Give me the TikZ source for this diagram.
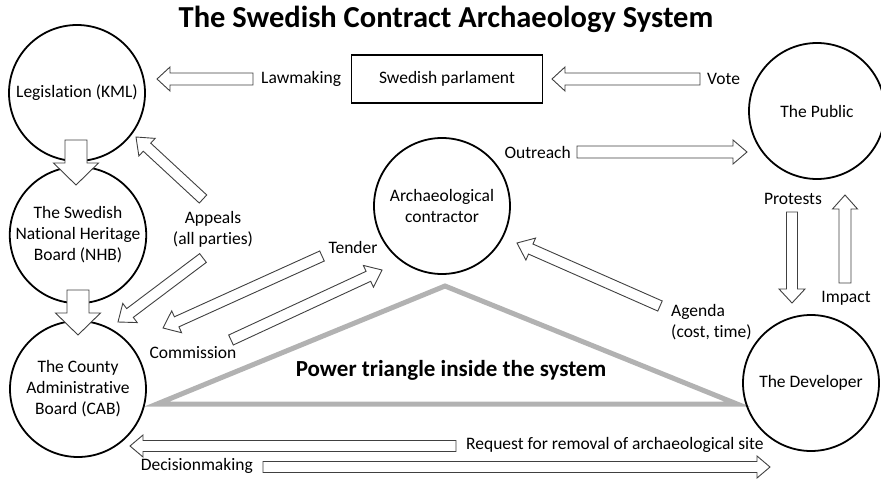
\documentclass[tikz,border=0pt]{standalone}
\usepackage{fontspec}
\setmainfont{Carlito}[Ligatures=NoCommon]
\usetikzlibrary{calc}
\newcommand\blockarr[6]{% name, from, to, half shaft, half head, head length
  \coordinate (#1h) at ($(#3)!#6!(#2)$);
  \draw[blk] ($(#2)!#4!90:(#3)$) -- ($(#1h)!#4!-90:(#2)$) -- ($(#1h)!#5!-90:(#2)$) -- (#3)
    -- ($(#1h)!#5!90:(#2)$) -- ($(#1h)!#4!90:(#2)$) -- ($(#2)!#4!-90:(#3)$) -- cycle;}
\tikzset{
  blk/.style={draw=black!75, fill=white, line width=0.9pt, line join=miter},
  circ/.style={circle, draw=black, line width=1.8pt, minimum size=136pt, inner sep=0pt, align=center, font=\fontsize{17.5}{21}\selectfont},
  lbl/.style={inner sep=0pt, font=\fontsize{17.5}{21}\selectfont, align=center},
}
\begin{document}
\begin{tikzpicture}[x=1pt,y=-1pt]
\useasboundingbox (0,0) rectangle (881,480);
% title
\node[font=\fontsize{30.5}{36}\selectfont\bfseries] (title) at (446,19) {The Swedish Contract Archaeology System};
% power triangle
\draw[black!30, line width=5pt, line join=miter] (445,286) -- (157,404) -- (737,404) -- cycle;
\node[font=\fontsize{23}{27}\selectfont\bfseries, inner sep=0pt] (pt) at (451,370) {Power triangle inside the system};
% circles
\node[circ] (leg) at (77,93) {Legislation (KML)};
\node[circ] (nhb) at (78,235) {The Swedish\\National Heritage\\Board (NHB)};
\node[circ] (cab) at (78,389) {The County\\Administrative\\Board (CAB)};
\node[circ] (arc) at (442,206) {Archaeological\\contractor};
\node[circ] (pub) at (817,111) {The Public};
\node[circ] (dev) at (811,383) {The Developer};
% parliament
\node[draw=black, line width=1.8pt, minimum width=191pt, minimum height=48pt, font=\fontsize{17.5}{21}\selectfont] (parl) at (447,79) {Swedish parlament};
% coordinates for arrows
\coordinate (lawA) at (253,79);  \coordinate (lawB) at (157,79);
\coordinate (votA) at (700,79);  \coordinate (votB) at (552,79);
\coordinate (outA) at (577,152); \coordinate (outB) at (747,152);
\coordinate (lnA) at (76,140);   \coordinate (lnB) at (76,185);
\coordinate (ncA) at (78,290);   \coordinate (ncB) at (78,335);
\coordinate (apuA) at (203,199); \coordinate (apuB) at (136,137);
\coordinate (apdA) at (203,258); \coordinate (apdB) at (118,322);
\coordinate (tenA) at (322,256); \coordinate (tenB) at (163,328);
\coordinate (comA) at (231,340); \coordinate (comB) at (382,270);
\coordinate (agA) at (660,306);  \coordinate (agB) at (517,243);
\coordinate (proA) at (792,212); \coordinate (proB) at (792,303);
\coordinate (impA) at (845,283); \coordinate (impB) at (845,195);
\coordinate (reqA) at (456,446); \coordinate (reqB) at (130,446);
\coordinate (decA) at (263,467); \coordinate (decB) at (770,467);
% block arrows
\blockarr{law}{lawA}{lawB}{6pt}{12pt}{13pt}
\blockarr{vot}{votA}{votB}{6pt}{12pt}{13pt}
\blockarr{out}{outA}{outB}{6pt}{12pt}{14pt}
\blockarr{ln}{lnA}{lnB}{11pt}{22.5pt}{22pt}
\blockarr{nc}{ncA}{ncB}{11pt}{22.5pt}{22pt}
\blockarr{apu}{apuA}{apuB}{5.5pt}{12pt}{15pt}
\blockarr{apd}{apdA}{apdB}{5.5pt}{12pt}{15pt}
\blockarr{ten}{tenA}{tenB}{5.5pt}{12pt}{15pt}
\blockarr{com}{comA}{comB}{5.5pt}{12pt}{15pt}
\blockarr{ag}{agA}{agB}{5.5pt}{12pt}{15pt}
\blockarr{pro}{proA}{proB}{5.5pt}{13pt}{14pt}
\blockarr{imp}{impA}{impB}{6pt}{12.5pt}{14pt}
\blockarr{req}{reqA}{reqB}{5.5pt}{11pt}{13pt}
\blockarr{dec}{decA}{decB}{5.5pt}{11pt}{13pt}
% labels
\node[lbl, anchor=west] (llaw) at (261,79) {Lawmaking};
\node[lbl, anchor=west] (lvot) at (707,79) {Vote};
\node[lbl, anchor=east] (lout) at (571,152) {Outreach};
\node[lbl] (lapp) at (213,229) {Appeals\\(all parties)};
\node[lbl] (lten) at (353,247) {Tender};
\node[lbl] (lcom) at (193,353) {Commission};
\node[lbl, anchor=west, align=left] (lag) at (671,322) {Agenda\\(cost, time)};
\node[lbl] (lpro) at (793,199) {Protests};
\node[lbl] (limp) at (846,298) {Impact};
\node[lbl, anchor=west] (lreq) at (466,445) {Request for removal of archaeological site};
\node[lbl, anchor=east] (ldec) at (253,466) {Decisionmaking};
\end{tikzpicture}
\end{document}
